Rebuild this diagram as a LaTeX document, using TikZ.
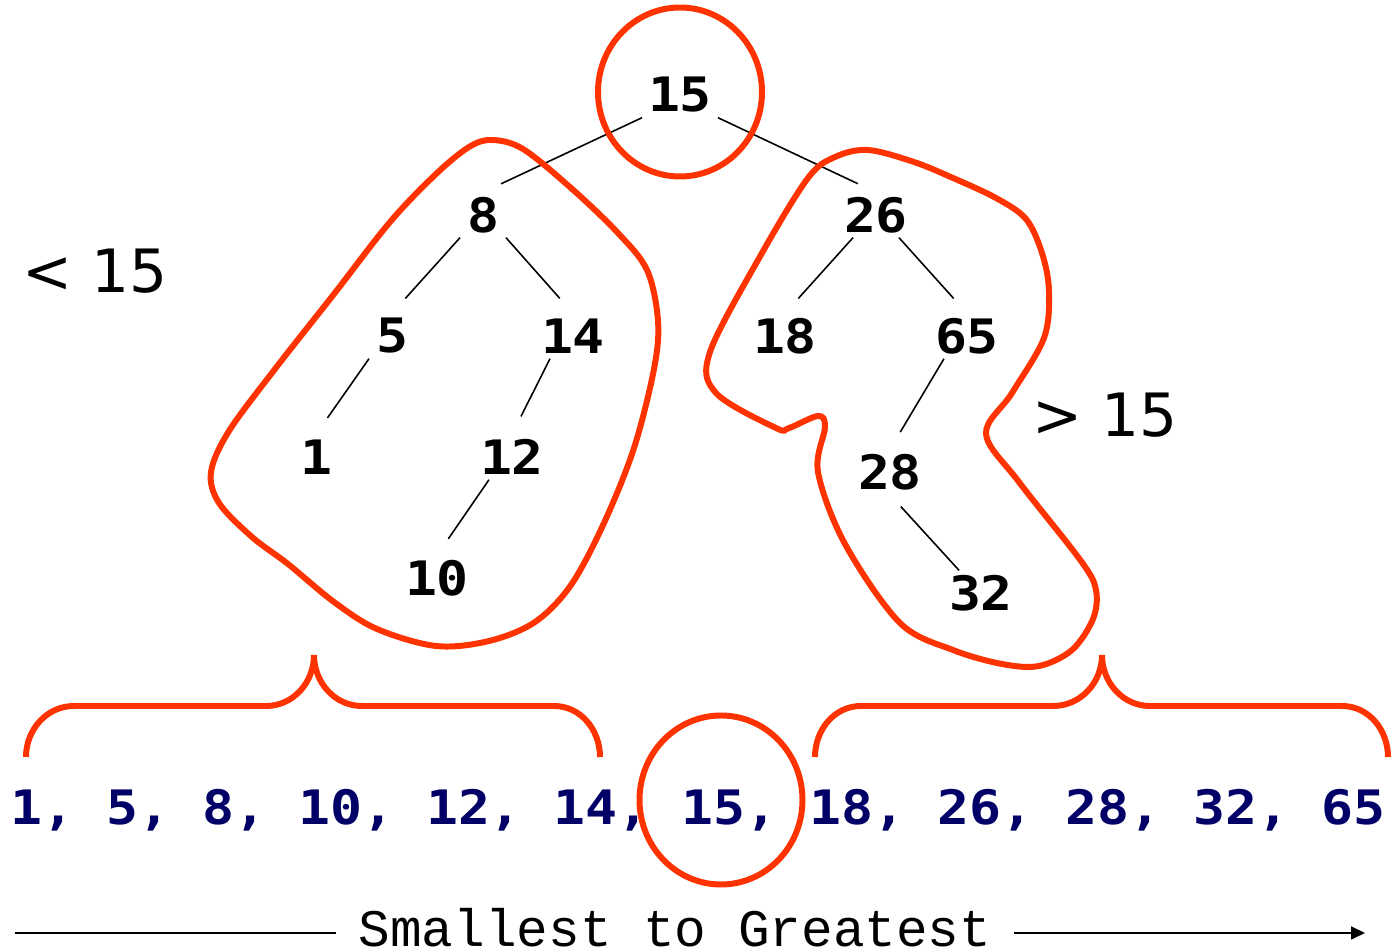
\documentclass[tikz,border=0pt]{standalone}
\usepackage{fontspec}
\usepackage{tikz}
\usetikzlibrary{arrows.meta}
\newfontfamily\keyfont[FakeStretch=1.12]{DejaVu Sans Mono}
\newfontfamily\signfont{DejaVu Sans}
\newfontfamily\axisfont{Liberation Mono}
\definecolor{hotred}{HTML}{FF3300}
\definecolor{navy}{HTML}{000066}

\begin{document}
\begin{tikzpicture}[
    key/.style={font=\keyfont\bfseries\fontsize{13.5}{16}\selectfont, minimum height=0.44cm, inner sep=0pt},
    sorted/.style={font=\keyfont\bfseries\fontsize{13.5}{16}\selectfont, text=navy, inner sep=0pt},
    sign/.style={font=\signfont\fontsize{17}{20}\selectfont, inner sep=0pt},
    axis/.style={font=\axisfont\fontsize{15}{18}\selectfont, inner xsep=0.22cm, inner ysep=0pt},
    ring/.style={draw=hotred, line width=1.7pt},
    link/.style={line width=0.45pt},
    branch/.style={link, shorten >=2mm},
    arrow/.style={-{Triangle[length=0.14cm, width=0.13cm]}, line width=0.5pt}
]
\useasboundingbox (0,0) rectangle (13.93,9.52);

\node[key] (n15) at (6.80,8.57) {15};

\node[key] (n8) at (4.83,7.37) {8};
\node[key] (n26) at (8.76,7.37) {26};

\node[key] (n5) at (3.92,6.16) {5};
\node[key] (n14) at (5.73,6.16) {14};
\node[key] (n18) at (7.85,6.16) {18};
\node[key] (n65) at (9.67,6.16) {65};

\node[key] (n1) at (3.16,4.95) {1};
\node[key] (n12) at (5.12,4.95) {12};
\node[key] (n28) at (8.90,4.80) {28};

\node[key] (n10) at (4.37,3.74) {10};
\node[key] (n32) at (9.81,3.59) {32};

\node[sign] (less) at (0.95,6.81) {< 15};
\node[sign] (more) at (11.05,5.37) {> 15};

\draw[branch] ([xshift=-3.8mm]n15.south) -- (n8.north);
\draw[branch] ([xshift=3.8mm]n15.south) -- (n26.north);

\draw[branch] ([xshift=-2.3mm]n8.south) -- (n5.north);
\draw[branch] ([xshift=2.3mm]n8.south) -- (n14.north);
\draw[branch] ([xshift=-2.3mm]n5.south) -- (n1.north);
\draw[branch] ([xshift=-2.3mm]n14.south) -- (n12.north);
\draw[branch] ([xshift=-2.3mm]n12.south) -- (n10.north);

\draw[branch] ([xshift=-2.3mm]n26.south) -- (n18.north);
\draw[branch] ([xshift=2.3mm]n26.south) -- (n65.north);
\draw[branch] ([xshift=-2.3mm]n65.south) -- (n28.north);
\draw[link, shorten <=1.6mm] (n28.south) -- ([xshift=-2.2mm]n32.north);

% the two sub-trees
\draw[ring] plot[smooth cycle, tension=0.55] coordinates {
    (4.92,8.12) (4.69,8.05) (4.36,7.78) (3.90,7.30) (3.34,6.58)
    (2.75,5.83) (2.29,5.21) (2.11,4.80) (2.19,4.49) (2.52,4.15)
    (2.88,3.88) (3.34,3.50) (3.77,3.23) (4.36,3.06) (4.89,3.11)
    (5.35,3.30) (5.71,3.67) (6.04,4.29) (6.34,5.04) (6.54,5.83)
    (6.58,6.31) (6.47,6.82) (6.17,7.20) (5.71,7.64) (5.23,8.03)};
\draw[ring] plot[smooth cycle, tension=0.55] coordinates {
    (8.68,8.02) (8.35,7.95) (8.08,7.74) (7.62,6.99) (7.10,6.00)
    (7.16,5.59) (7.76,5.24) (7.89,5.24) (8.18,5.36) (8.25,5.25)
    (8.18,4.80) (8.45,4.08) (9.00,3.29) (9.53,3.02) (10.02,2.88)
    (10.39,2.86) (10.72,3.02) (10.93,3.33) (10.96,3.62) (10.81,3.91)
    (10.19,4.70) (9.86,5.18) (10.12,5.59) (10.44,6.14) (10.49,6.61)
    (10.42,6.99) (10.26,7.33) (9.96,7.54) (9.53,7.74) (9.14,7.90)};
\draw[ring] ([yshift=0.3mm]n15) ellipse [x radius=0.82, y radius=0.845];

% sorted order
\node[sorted, anchor=base] (list) at (6.98,1.27) {1, 5, 8, 10, 12, 14, 15, 18, 26, 28, 32, 65};
\draw[ring] (7.21,1.52) ellipse [x radius=0.815, y radius=0.845];

\draw[ring] (0.26,1.95) to[out=90,in=180] (0.74,2.46) -- (2.66,2.46) to[out=0,in=-90] (3.14,2.97)
    to[out=-90,in=180] (3.62,2.46) -- (5.54,2.46) to[out=0,in=90] (6.00,1.95);
\draw[ring] (8.15,1.95) to[out=90,in=180] (8.61,2.46) -- (10.53,2.46) to[out=0,in=-90] (11.02,2.97)
    to[out=-90,in=180] (11.50,2.46) -- (13.42,2.46) to[out=0,in=90] (13.88,1.95);

\node[axis, anchor=base] (order) at (6.75,0.05) {Smallest to Greatest};
\coordinate (lft) at (0.15,0.19);
\coordinate (rgt) at (13.65,0.19);
\draw[link] (lft) -- (lft -| order.west);
\draw[arrow] (rgt -| order.east) -- (rgt);

\end{tikzpicture}
\end{document}
